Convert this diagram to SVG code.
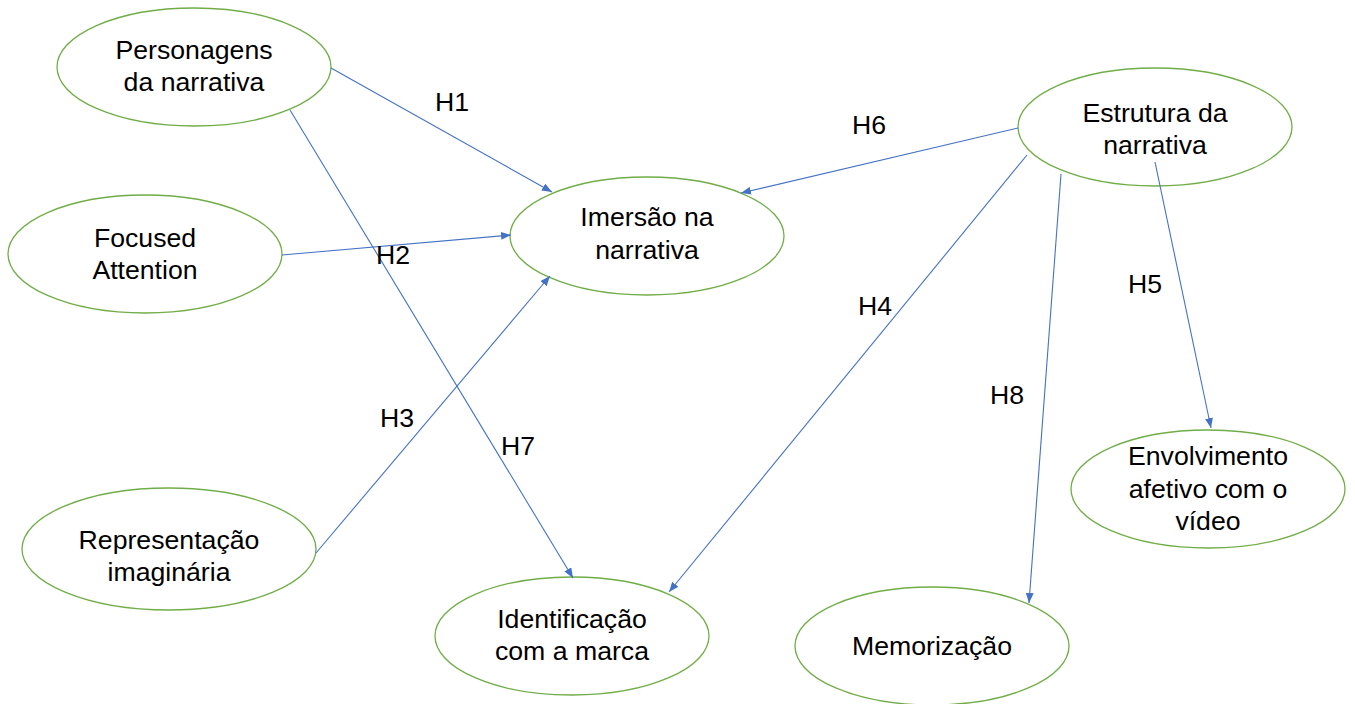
<svg xmlns="http://www.w3.org/2000/svg" width="1355" height="704" viewBox="0 0 1355 704">
<defs>
<marker id="arr" viewBox="0 0 10 8" refX="10" refY="4" markerWidth="10" markerHeight="8" markerUnits="userSpaceOnUse" orient="auto">
<path d="M0,0 L10,4 L0,8 Z" fill="#4472C4"/>
</marker>
</defs>
<style>
.node ellipse{fill:#fff;stroke:#70AD47;stroke-width:1.3}
text{font-family:"Liberation Sans",Arial,sans-serif;font-size:26.67px;fill:#000;text-anchor:middle}
.conn line{stroke:#4472C4;stroke-width:1.1;marker-end:url(#arr)}
</style>
<rect width="1355" height="704" fill="#fff"/>
<g id="n-personagens" class="node"><ellipse cx="194" cy="67" rx="137" ry="59"/><text x="194" y="59">Personagens</text><text x="194" y="91">da narrativa</text></g>
<g id="n-focused" class="node"><ellipse cx="145" cy="254" rx="137" ry="59"/><text x="145" y="247">Focused</text><text x="145" y="279">Attention</text></g>
<g id="n-imersao" class="node"><ellipse cx="647" cy="236" rx="137" ry="59"/><text x="647" y="226">Imersão na</text><text x="647" y="259">narrativa</text></g>
<g id="n-estrutura" class="node"><ellipse cx="1155" cy="127" rx="137" ry="59"/><text x="1155" y="122">Estrutura da</text><text x="1155" y="154">narrativa</text></g>
<g id="n-envolvimento" class="node"><ellipse cx="1208" cy="489" rx="137" ry="59"/><text x="1208" y="465">Envolvimento</text><text x="1208" y="498">afetivo com o</text><text x="1208" y="530">vídeo</text></g>
<g id="n-representacao" class="node"><ellipse cx="169" cy="549" rx="147" ry="61"/><text x="169" y="549">Representação</text><text x="169" y="581">imaginária</text></g>
<g id="n-identificacao" class="node"><ellipse cx="572" cy="636" rx="137" ry="59"/><text x="572" y="628">Identificação</text><text x="572" y="660">com a marca</text></g>
<g id="n-memorizacao" class="node"><ellipse cx="932" cy="646" rx="137" ry="59"/><text x="932" y="655">Memorização</text></g>
<g id="connectors" class="conn">
<line x1="331" y1="68" x2="552" y2="192"/>
<line x1="290" y1="110" x2="573" y2="578"/>
<line x1="282" y1="255" x2="511" y2="235"/>
<line x1="316" y1="553" x2="550" y2="276"/>
<line x1="1018" y1="128" x2="741" y2="193"/>
<line x1="1027" y1="155" x2="669" y2="592"/>
<line x1="1061" y1="174" x2="1029" y2="603"/>
<line x1="1155" y1="162" x2="1211" y2="428"/>
</g>
<g id="labels">
<text x="452" y="111">H1</text>
<text x="869" y="134">H6</text>
<text x="393" y="264">H2</text>
<text x="397" y="427">H3</text>
<text x="518" y="455">H7</text>
<text x="875" y="315">H4</text>
<text x="1145" y="293">H5</text>
<text x="1007" y="404">H8</text>
</g>
</svg>
